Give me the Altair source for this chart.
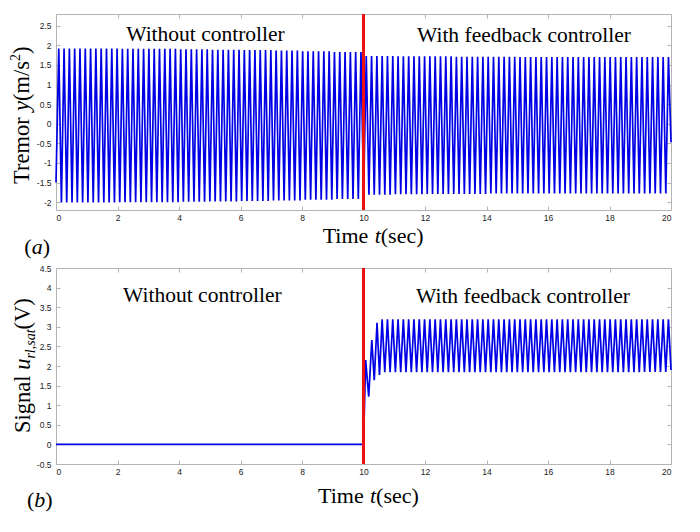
import altair as alt
import pandas as pd

# ---------------- data ----------------
T_END = 20
CONTROL_ON = 10
FREQ_HZ = 5.8                      # ~11.6 peaks every 2 s

x_ticks = [0, 2, 4, 6, 8, 10, 12, 14, 16, 18, 20]
tremor_ticks = [-2, -1.5, -1, -0.5, 0, 0.5, 1, 1.5, 2, 2.5]
signal_ticks = [-0.5, 0, 0.5, 1, 1.5, 2, 2.5, 3, 3.5, 4, 4.5]

# panel (a): peak / trough level of the tremor in each second 0..19
tremor_upper = [1.92, 1.92, 1.91, 1.91, 1.90, 1.89, 1.88, 1.87, 1.85, 1.83,
                1.73, 1.72, 1.72, 1.71, 1.71, 1.70, 1.70, 1.70, 1.70, 1.70]
tremor_lower = [-2.01, -2.01, -2.00, -2.00, -1.99, -1.98, -1.97, -1.96, -1.94, -1.92,
                -1.81, -1.80, -1.79, -1.79, -1.78, -1.78, -1.78, -1.78, -1.78, -1.78]
tremor_start = -1.5
tremor_end = -0.47

# panel (b): controller signal
signal_off_t = [0.0, 10.0]
signal_off_v = [0.0, 0.0]
signal_trans_t = [10.07, 10.17, 10.27, 10.35, 10.44, 10.52]
signal_trans_v = [2.15, 1.22, 2.66, 1.64, 3.10, 1.77]
signal_upper = [3.19, 3.19, 3.19, 3.19, 3.19, 3.19, 3.19, 3.19, 3.19, 3.19]  # seconds 10..19
signal_lower = [1.84, 1.84, 1.84, 1.84, 1.84, 1.84, 1.84, 1.84, 1.84, 1.85]
signal_end = 1.9

# ---------------- build the traces (extrema joined by line) ----------------
half = 1.0 / (2 * FREQ_HZ)

tt, tv = [0.0], [tremor_start]
t, k = 0.09, 0
while t < T_END:
    s = int(t)
    tv.append(tremor_upper[s] if k % 2 == 0 else tremor_lower[s])
    tt.append(t)
    t += half
    k += 1
tt.append(float(T_END)); tv.append(tremor_end)
df_a = pd.DataFrame({"t": tt, "v": tv})

st = list(signal_off_t) + list(signal_trans_t)
sv = list(signal_off_v) + list(signal_trans_v)
t, k = signal_trans_t[-1] + half, 0
while t < T_END:
    s = int(t) - CONTROL_ON
    sv.append(signal_upper[s] if k % 2 == 0 else signal_lower[s])
    st.append(t)
    t += half
    k += 1
st.append(float(T_END)); sv.append(signal_end)
df_b = pd.DataFrame({"t": st, "v": sv})

# ---------------- styling helpers ----------------
W, H = 615, 196
SERIF = "Liberation Serif"
BLUE = "#0000e6"
RED = "#ee1111"
GRAY = "#b4b4b4"

ROMAN = {" ": 250, "(": 333, ")": 333, "/": 278, ",": 250, "2": 500, "S": 556, "T": 611,
         "V": 722, "W": 944, "a": 444, "c": 444, "e": 444, "g": 500, "i": 278, "l": 278,
         "m": 778, "n": 500, "o": 500, "r": 333, "s": 389, "t": 278, "u": 500, "y": 500}
ITALIC = {"a": 500, "b": 500, "t": 278, "u": 500, "y": 444, "r": 389, "l": 278, "s": 389, ",": 250}


def width(txt, size, italic):
    tab = ITALIC if italic else ROMAN
    return sum(tab.get(c, 500) for c in txt) * size / 1000.0


def rich(pieces, x, y, angle=0):
    """pieces: (text, size, italic, shift)"""
    layers = []
    off = 0.0
    for txt, size, italic, shift in pieces:
        kw = dict(font=SERIF, fontSize=size, align="left", baseline="alphabetic",
                  color="#000000", dx=off, dy=shift)
        if italic:
            kw["fontStyle"] = "italic"
        if angle:
            kw["angle"] = angle
        layers.append(
            alt.Chart(pd.DataFrame({"s": [txt]})).mark_text(**kw).encode(
                x=alt.value(x), y=alt.value(y), text="s:N"))
        off += width(txt, size, italic)
    return layers


def label(txt, x, y, size=21.5):
    return alt.Chart(pd.DataFrame({"s": [txt]})).mark_text(
        font=SERIF, fontSize=size, align="center", baseline="alphabetic", color="#000000"
    ).encode(x=alt.value(x), y=alt.value(y), text="s:N")


def panel(df, ydom, yticks, texts):
    xs = alt.Scale(domain=[0, T_END], nice=False, zero=False)
    ys = alt.Scale(domain=ydom, nice=False, zero=False)
    lab = dict(labelFont="Liberation Sans", labelFontSize=8.5, labelColor="#222222",
               labelExpr="'' + datum.value", domain=False, grid=False, tickSize=0, title=None)
    line = alt.Chart(df).mark_line(color=BLUE, strokeWidth=1.7).encode(
        x=alt.X("t:Q", scale=xs, axis=alt.Axis(values=x_ticks, labelPadding=3, orient="bottom", **lab)),
        y=alt.Y("v:Q", scale=ys, axis=alt.Axis(values=yticks, labelPadding=5, orient="left", **lab)),
    )
    tk = dict(labels=False, domain=False, grid=False, tickSize=4, tickColor=GRAY, title=None, offset=-4)
    corners = pd.DataFrame({"t": [0, T_END], "v": ydom})
    ticks1 = alt.Chart(corners).mark_point(opacity=0).encode(
        x=alt.X("t:Q", scale=xs, axis=alt.Axis(values=x_ticks, orient="bottom", **tk)),
        y=alt.Y("v:Q", scale=ys, axis=alt.Axis(values=yticks, orient="left", **tk)),
    )
    ticks2 = alt.Chart(corners).mark_point(opacity=0).encode(
        x=alt.X("t:Q", scale=xs, axis=alt.Axis(values=x_ticks, orient="top", **tk)),
        y=alt.Y("v:Q", scale=ys, axis=alt.Axis(values=yticks, orient="right", **tk)),
    )
    rule = alt.Chart(pd.DataFrame({"t": [CONTROL_ON]})).mark_rule(color=RED, strokeWidth=3).encode(
        x=alt.X("t:Q", scale=xs, axis=None))
    return alt.layer(line, ticks1, ticks2, rule, *texts).resolve_axis(
        x="independent", y="independent").properties(width=W, height=H)


texts_a = [
    label("Without controller", 149.5, 27.3),
    label("With feedback controller", 468, 28),
    *rich([("Time ", 22, False, 0), ("t", 22, True, 0), ("(sec)", 22, False, 0)], 266.7, 228.7),
    *rich([("(", 22, False, 0), ("a", 22, True, 0), (")", 22, False, 0)], -31.7, 240),
    *rich([("Tremor ", 22.5, False, 0), ("y", 22.5, True, 0), ("(m/s", 22.5, False, 0),
           ("2", 14, False, -9), (")", 22.5, False, 0)], -27, 170, angle=270),
]
texts_b = [
    label("Without controller", 146.4, 34.3),
    label("With feedback controller", 467, 35.3),
    *rich([("Time ", 22, False, 0), ("t", 22, True, 0), ("(sec)", 22, False, 0)], 262, 235.3),
    *rich([("(", 22, False, 0), ("b", 22, True, 0), (")", 22, False, 0)], -29, 239),
    *rich([("Signal ", 22.5, False, 0), ("u", 22.5, True, 0), ("rl,sat", 14, True, 5),
           ("(V)", 22.5, False, 0)], -26, 165, angle=270),
]

top = panel(df_a, [-2.2, 2.8], tremor_ticks, texts_a)
bottom = panel(df_b, [-0.5, 4.5], signal_ticks, texts_b)

chart = alt.vconcat(top, bottom, spacing=4).configure_view(
    stroke=GRAY, strokeWidth=1).properties(
    padding={"left": 0, "top": 2, "right": 5, "bottom": 5})

chart.save("out.html", embed_options={"renderer": "svg", "actions": False})
